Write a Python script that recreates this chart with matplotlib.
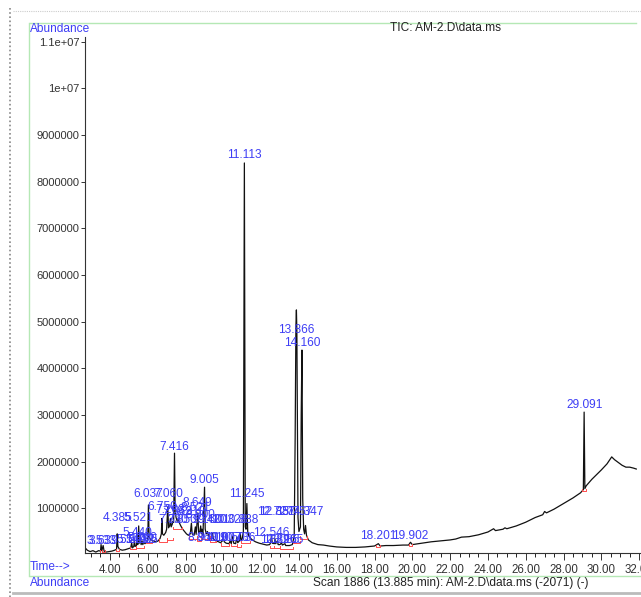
import matplotlib
matplotlib.use("Agg")
import matplotlib.pyplot as plt
from matplotlib.lines import Line2D
from matplotlib.ticker import FixedLocator, MultipleLocator

plt.rcParams['font.family'] = ['Liberation Sans', 'DejaVu Sans']

# Datos del cromatograma TIC (tiempo en min, abundancia en millones)
rt_min = [2.69, 2.80, 2.95, 3.10, 3.25, 3.40, 3.50, 3.53, 3.57, 3.64, 3.69, 3.80, 3.95, 4.10, 4.25, 4.35,
          4.385, 4.42, 4.50, 4.65, 4.80, 4.95, 5.10, 5.149, 5.19, 5.26, 5.298, 5.33, 5.40, 5.44, 5.47,
          5.521, 5.55, 5.612, 5.65, 5.70, 5.74, 5.78, 5.85, 5.95, 6.00, 6.037, 6.07, 6.15, 6.30, 6.45,
          6.55, 6.65, 6.72, 6.75, 6.78, 6.85, 6.95, 7.00, 7.060, 7.10, 7.16, 7.20, 7.24, 7.30, 7.33,
          7.37, 7.416, 7.45, 7.50, 7.56, 7.62, 7.68, 7.75, 7.85, 7.95, 8.05, 8.15, 8.25, 8.31, 8.35,
          8.45, 8.52, 8.56, 8.649, 8.69, 8.76, 8.80, 8.84, 8.869, 8.92, 9.005, 9.04, 9.10, 9.16, 9.22,
          9.35, 9.42, 9.48, 9.60, 9.75, 9.85, 9.95, 10.00, 10.05, 10.15, 10.30, 10.36, 10.42, 10.50,
          10.55, 10.65, 10.72, 10.76, 10.85, 10.90, 10.94, 11.00, 11.06, 11.113, 11.16, 11.20, 11.245,
          11.29, 11.35, 11.50, 11.70, 11.90, 12.10, 12.30, 12.45, 12.50, 12.546, 12.59, 12.70, 12.73,
          12.77, 12.86, 12.90, 13.00, 13.08, 13.12, 13.26, 13.30, 13.50, 13.65, 13.75, 13.80, 13.84,
          13.866, 13.89, 13.95, 14.00, 14.08, 14.12, 14.160, 14.20, 14.25, 14.30, 14.347, 14.40, 14.50,
          14.70, 15.00, 15.30, 15.60, 16.00, 16.50, 17.00, 17.50, 18.00, 18.201, 18.30, 18.60, 19.00,
          19.50, 19.80, 19.902, 20.00, 20.50, 21.00, 21.50, 22.00, 22.30, 22.60, 23.00, 23.50, 24.00,
          24.30, 24.40, 24.80, 24.90, 25.00, 25.50, 26.00, 26.50, 26.90, 27.00, 27.10, 27.50, 28.00,
          28.50, 28.90, 29.05, 29.091, 29.13, 29.20, 29.50, 30.00, 30.30, 30.55, 30.70, 30.90, 31.10,
          31.30, 31.50, 31.70, 31.85]
abund_m = [0.15, 0.10, 0.07, 0.09, 0.06, 0.09, 0.08, 0.22, 0.09, 0.20, 0.08, 0.06, 0.07, 0.08, 0.10, 0.12,
           0.45, 0.18, 0.12, 0.10, 0.11, 0.13, 0.15, 0.26, 0.15, 0.18, 0.30, 0.18, 0.20, 0.42, 0.22,
           0.62, 0.25, 0.32, 0.22, 0.30, 0.22, 0.28, 0.24, 0.28, 0.32, 1.07, 0.38, 0.33, 0.30, 0.28,
           0.30, 0.35, 0.45, 0.78, 0.45, 0.42, 0.48, 0.55, 1.02, 0.58, 0.62, 0.78, 0.60, 0.66, 0.72,
           0.70, 2.18, 0.90, 0.80, 0.72, 0.76, 0.68, 0.62, 0.55, 0.50, 0.45, 0.42, 0.45, 0.68, 0.45,
           0.42, 0.60, 0.44, 0.90, 0.48, 0.50, 0.62, 0.45, 0.55, 0.42, 1.45, 0.55, 0.45, 0.50, 0.40,
           0.36, 0.46, 0.34, 0.30, 0.28, 0.26, 0.30, 0.36, 0.28, 0.25, 0.24, 0.30, 0.24, 0.40,
           0.25, 0.24, 0.38, 0.26, 0.30, 0.45, 0.30, 0.35, 0.50, 8.40, 0.60, 0.55, 1.10,
           0.50, 0.40, 0.33, 0.28, 0.25, 0.23, 0.21, 0.22, 0.26, 0.40, 0.25, 0.24, 0.35,
           0.24, 0.30, 0.22, 0.22, 0.26, 0.21, 0.24, 0.20, 0.20, 0.22, 0.40, 2.50, 4.90,
           5.25, 4.80, 0.80, 0.50, 0.60, 3.00, 4.39, 1.20, 0.55, 0.45, 0.63, 0.42, 0.32,
           0.26, 0.22, 0.21, 0.19, 0.17, 0.16, 0.16, 0.17, 0.19, 0.24, 0.19, 0.20, 0.20,
           0.21, 0.21, 0.27, 0.22, 0.25, 0.28, 0.30, 0.32, 0.34, 0.38, 0.39, 0.43, 0.49,
           0.56, 0.52, 0.55, 0.58, 0.56, 0.62, 0.70, 0.80, 0.86, 0.93, 0.90, 0.98, 1.10,
           1.22, 1.33, 1.40, 3.06, 1.42, 1.48, 1.62, 1.82, 1.95, 2.10, 2.04, 1.98, 1.92,
           1.88, 1.88, 1.86, 1.84]

# Etiquetas de picos: texto, tiempo y altura de la etiqueta (millones)
peak_labels = ["3.533", "3.639", "4.385", "5.149", "5.298", "5.440", "5.521", "5.612", "5.700", "5.765",
               "6.037", "6.750", "7.060", "7.203", "7.330", "7.416", "7.562", "7.850", "8.310", "8.521",
               "8.649", "8.800", "8.869", "9.005", "9.160", "9.420", "9.419", "10.007", "10.328", "10.503",
               "10.736", "10.888", "11.113", "11.245", "12.546", "12.727", "12.857", "12.896", "13.085",
               "13.265", "13.757", "13.866", "14.160", "14.347", "18.201", "19.902", "29.091"]
peak_rt = [3.53, 3.64, 4.385, 5.149, 5.298, 5.44, 5.521, 5.612, 5.70, 5.765,
           6.037, 6.75, 7.06, 7.203, 7.33, 7.416, 7.562, 7.85, 8.31, 8.521,
           8.649, 8.80, 8.869, 9.005, 9.16, 9.42, 9.419, 10.007, 10.328, 10.503,
           10.736, 10.888, 11.113, 11.245, 12.546, 12.727, 12.857, 12.896, 13.085,
           13.265, 13.757, 13.866, 14.160, 14.347, 18.201, 19.902, 29.091]
label_y_m = [0.30, 0.30, 0.79, 0.32, 0.32, 0.47, 0.79, 0.32, 0.36, 0.32,
             1.31, 1.03, 1.31, 0.96, 0.75, 2.31, 0.92, 0.75, 0.92, 1.00,
             1.11, 0.86, 0.36, 1.61, 0.75, 0.75, 0.36, 0.36, 0.75, 0.36,
             0.36, 0.75, 8.57, 1.31, 0.47, 0.92, 0.92, 0.32, 0.32,
             0.32, 0.92, 4.82, 4.54, 0.92, 0.41, 0.41, 3.21]

# Lineas de integracion (rojo): inicio, fin y nivel (millones)
int_start = [3.45, 3.60, 4.30, 5.05, 5.40, 5.90, 6.60, 7.00, 7.36, 8.20, 8.60, 8.80, 9.30, 9.90, 10.40,
             10.70, 10.95, 12.45, 12.70, 13.00, 13.70, 14.05, 18.10, 19.80, 29.00]
int_end = [3.60, 3.75, 4.50, 5.40, 5.80, 6.20, 7.00, 7.36, 7.80, 8.60, 8.80, 9.30, 9.60, 10.30, 10.70,
           10.95, 11.40, 12.70, 13.00, 13.70, 14.05, 14.45, 18.30, 20.00, 29.20]
int_level = [0.05, 0.06, 0.08, 0.12, 0.14, 0.25, 0.28, 0.32, 0.55, 0.35, 0.30, 0.35, 0.28, 0.20, 0.18,
             0.16, 0.25, 0.15, 0.14, 0.12, 0.25, 0.35, 0.17, 0.19, 1.36]

y_ticks = [1e6, 2e6, 3e6, 4e6, 5e6, 6e6, 7e6, 8e6, 9e6, 1e7, 1.1e7]
y_tick_labels = ["1000000", "2000000", "3000000", "4000000", "5000000", "6000000",
                 "7000000", "8000000", "9000000", "1e+07", "1.1e+07"]
x_ticks = [4, 6, 8, 10, 12, 14, 16, 18, 20, 22, 24, 26, 28, 30, 32]

W, H = 641, 597
azul = "#3d3df5"
verde = "#b5e8b5"

fig = plt.figure(figsize=(W / 100, H / 100), dpi=100)
ax = fig.add_axes([85 / W, (H - 553) / H, 556 / W, 516 / H])

abund = [v * 1e6 for v in abund_m]
ax.plot(rt_min, abund, color="#111111", lw=0.9)

# Integracion en rojo
for s, e, lv in zip(int_start, int_end, int_level):
    ax.plot([s, s, e, e], [lv * 1e6 + 5e4, lv * 1e6, lv * 1e6, lv * 1e6 + 5e4], color="#ff4d4d", lw=0.7)

for txt, rt, ly in zip(peak_labels, peak_rt, label_y_m):
    ax.text(rt, ly * 1e6, txt, color=azul, fontsize=8.6, ha="center", va="center")

ax.set_xlim(2.68, 32.1)
ax.set_ylim(0.04e6, 11.1e6)
for s in ["top", "right"]:
    ax.spines[s].set_visible(False)
for s in ["left", "bottom"]:
    ax.spines[s].set_color("#333333")
    ax.spines[s].set_linewidth(0.8)

ax.yaxis.set_major_locator(FixedLocator(y_ticks))
ax.set_yticklabels(y_tick_labels)
ax.xaxis.set_major_locator(FixedLocator(x_ticks))
ax.set_xticklabels(["%.2f" % v for v in x_ticks])
ax.xaxis.set_minor_locator(MultipleLocator(0.5))
ax.tick_params(axis="y", direction="out", length=3, width=0.7, pad=1, labelsize=8, colors="#333333")
ax.tick_params(axis="x", which="major", direction="out", length=5, width=0.7, pad=3, labelsize=8.3, colors="#333333")
ax.tick_params(axis="x", which="minor", direction="out", length=3, width=0.6)

# Marco y textos de la ventana
fig.add_artist(Line2D([30 / W, 636 / W], [1 - 23 / H, 1 - 23 / H], color=verde, lw=1))
fig.add_artist(Line2D([30 / W, 1], [1 - 576 / H, 1 - 576 / H], color=verde, lw=1))
fig.add_artist(Line2D([29 / W, 29 / W], [1 - 23 / H, 1 - 576 / H], color=verde, lw=1))
fig.add_artist(Line2D([13 / W, 1], [1 - 11 / H, 1 - 11 / H], color="#cccccc", lw=0.8, ls=(0, (1, 1))))
fig.add_artist(Line2D([10 / W, 10 / W], [1 - 8 / H, 1 - 597 / H], color="#888888", lw=1.2, ls=(0, (1, 1.5))))
fig.add_artist(Line2D([13 / W, 1], [1 - 593 / H, 1 - 593 / H], color="#bbbbbb", lw=2))

fig.text(30 / W, 1 - 29 / H, "Abundance", color=azul, fontsize=8.6, va="center")
fig.text(390 / W, 1 - 28 / H, "TIC: AM-2.D\\data.ms", color="#222222", fontsize=8.6, va="center")
fig.text(30 / W, 1 - 567 / H, "Time-->", color=azul, fontsize=8.6, va="center")
fig.text(30 / W, 1 - 583 / H, "Abundance", color=azul, fontsize=8.6, va="center")
fig.text(313 / W, 1 - 583 / H, "Scan 1886 (13.885 min): AM-2.D\\data.ms (-2071) (-)", color="#222222",
         fontsize=8.6, va="center")

fig.savefig("out.png", dpi=100)
